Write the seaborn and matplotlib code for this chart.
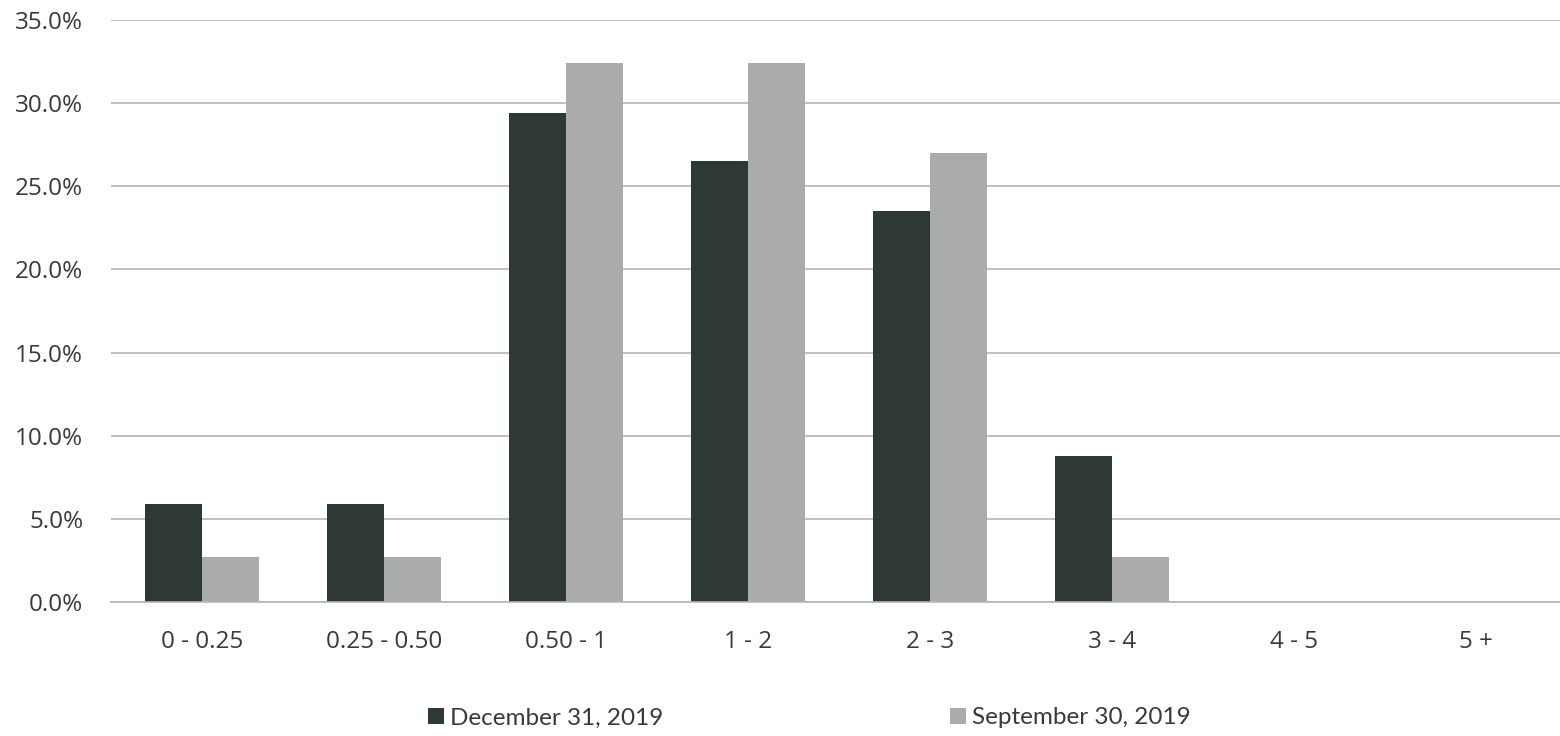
import matplotlib
matplotlib.use("Agg")
import matplotlib.pyplot as plt
from matplotlib.ticker import PercentFormatter, MultipleLocator
from matplotlib.patches import Patch
import seaborn as sns
import pandas as pd

# Distribution by range bucket
categories = ["0 - 0.25", "0.25 - 0.50", "0.50 - 1", "1 - 2", "2 - 3", "3 - 4", "4 - 5", "5 +"]
dec_2019 = [5.9, 5.9, 29.4, 26.5, 23.5, 8.8, 0.0, 0.0]
sep_2019 = [2.7, 2.7, 32.4, 32.4, 27.0, 2.7, 0.0, 0.0]
series_names = ["December 31, 2019", "September 30, 2019"]

df = pd.DataFrame({
    "bucket": categories * 2,
    "share": dec_2019 + sep_2019,
    "period": [series_names[0]] * len(categories) + [series_names[1]] * len(categories),
})

sns.set_theme(style="white")
plt.rcParams["font.family"] = ["Open Sans", "DejaVu Sans"]

dark = "#2e3836"
light = "#a9abad"
text_color = "#3a3a3a"

fig = plt.figure(figsize=(15.6, 7.36), dpi=100)
ax = fig.add_axes([111 / 1560, 1 - 602 / 736, 1 - 111 / 1560, (602 - 20) / 736])

sns.barplot(data=df, x="bucket", y="share", hue="period",
            palette=[dark, light], saturation=1, width=0.63, gap=0,
            order=categories, hue_order=series_names, legend=False, ax=ax,
            linewidth=0, edgecolor="none")

ax.set_ylim(0, 35)
ax.set_xlim(-0.5, 7.5 - 7 / 182)
ax.yaxis.set_major_locator(MultipleLocator(5))
ax.yaxis.set_major_formatter(PercentFormatter(decimals=1))
ax.grid(axis="y", color="#b5b5b5", linewidth=1.2)
ax.set_axisbelow(True)
for side in ["top", "right", "left"]:
    ax.spines[side].set_visible(False)
ax.spines["bottom"].set_color("#b5b5b5")
ax.spines["bottom"].set_linewidth(1.2)
ax.set_xlabel("")
ax.set_ylabel("")
ax.tick_params(axis="y", length=0, pad=20, labelsize=17.5, labelcolor=text_color)
ax.tick_params(axis="x", length=0, pad=20, labelsize=17.5, labelcolor=text_color)

handles = [Patch(facecolor=dark, edgecolor="none"), Patch(facecolor=light, edgecolor="none")]
fig.legend(handles, series_names, loc="center", bbox_to_anchor=(0.519, 1 - 718 / 736),
           ncol=2, frameon=False, labelcolor=text_color,
           prop={"family": ["Lato", "DejaVu Sans"], "size": 17.5},
           handlelength=0.66, handleheight=0.66, handletextpad=0.25, columnspacing=11.8)

fig.savefig("out.png", dpi=100, facecolor="white")
